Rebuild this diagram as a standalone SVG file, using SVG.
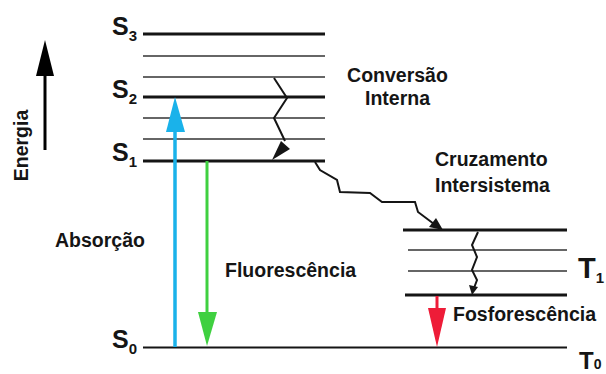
<svg xmlns="http://www.w3.org/2000/svg" width="606" height="374" viewBox="0 0 606 374">
<style>
  .lbl{font-family:"Liberation Sans",Arial,sans-serif;font-weight:bold;fill:#151515;font-size:19.5px}
  .st{font-family:"Liberation Sans",Arial,sans-serif;font-weight:bold;fill:#151515}
  .thick{stroke:#151515;stroke-width:2.8;fill:none}
  .thin{stroke:#333;stroke-width:1.6;fill:none}
  .zig{stroke:#151515;stroke-width:2;fill:none;stroke-linejoin:miter}
</style>
<rect width="606" height="374" fill="#ffffff"/>
<g id="energy-axis">
  <line x1="45" y1="150" x2="45" y2="72" stroke="#000" stroke-width="3"/>
  <polygon points="45,40 36,76 54,76" fill="#000"/>
  <text class="lbl" transform="translate(28,145.5) rotate(-90)" text-anchor="middle" font-size="17">Energia</text>
</g>
<g id="S3">
  <line class="thick" x1="143" y1="34" x2="325" y2="34"/>
  <text class="st" x="112" y="35" font-size="25">S<tspan font-size="15" dy="6">3</tspan></text>
</g>
<g id="S-manifold">
  <line class="thin" x1="143" y1="56" x2="325" y2="56"/>
  <line class="thin" x1="143" y1="77" x2="325" y2="77"/>
  <line class="thin" x1="143" y1="118" x2="325" y2="118"/>
  <line class="thin" x1="143" y1="139" x2="325" y2="139"/>
</g>
<g id="S2">
  <line class="thick" x1="143" y1="97" x2="325" y2="97"/>
  <text class="st" x="112" y="98" font-size="25">S<tspan font-size="15" dy="6">2</tspan></text>
</g>
<g id="S1">
  <line class="thick" x1="143" y1="161" x2="325" y2="161"/>
  <text class="st" x="112" y="161" font-size="25">S<tspan font-size="15" dy="6">1</tspan></text>
</g>
<g id="S0-T0">
  <line stroke="#151515" stroke-width="2.2" x1="143" y1="347.5" x2="567" y2="347.5"/>
  <text class="st" x="112" y="348" font-size="25">S<tspan font-size="15" dy="6">0</tspan></text>
  <text class="st" x="579" y="369" font-size="24">T<tspan font-size="14">0</tspan></text>
</g>
<g id="T1">
  <line class="thick" x1="403" y1="230" x2="567" y2="230"/>
  <line class="thin" x1="408" y1="250" x2="567" y2="250"/>
  <line class="thin" x1="408" y1="271" x2="567" y2="271"/>
  <line class="thick" x1="405" y1="295" x2="567" y2="295"/>
  <text class="st" x="578" y="278" font-size="29">T<tspan font-size="15" dy="5">1</tspan></text>
</g>
<g id="labels">
  <text class="lbl" x="397.5" y="82" text-anchor="middle">Conversão</text>
  <text class="lbl" x="397.5" y="105" text-anchor="middle">Interna</text>
  <text class="lbl" x="435" y="166">Cruzamento</text>
  <text class="lbl" x="435" y="191.5">Intersistema</text>
  <text class="lbl" x="55" y="247">Absorção</text>
  <text class="lbl" x="225" y="276.5">Fluorescência</text>
  <text class="lbl" x="453" y="321">Fosforescência</text>
</g>
<g id="connectors">
  <g id="absorcao">
    <line x1="175" y1="347" x2="175" y2="128" stroke="#1ab2ea" stroke-width="3.5"/>
    <polygon points="175,97 166,132 185,132" fill="#1ab2ea"/>
  </g>
  <g id="fluorescencia">
    <line x1="207" y1="161" x2="207" y2="315" stroke="#3fd040" stroke-width="3"/>
    <polygon points="207,346 198,312 217,312" fill="#3fd040"/>
  </g>
  <g id="fosforescencia">
    <line x1="437" y1="296" x2="437" y2="311" stroke="#ee1c38" stroke-width="3"/>
    <polygon points="437,347 428,308 446,308" fill="#ee1c38"/>
  </g>
  <g id="conversao-interna">
    <polyline class="zig" points="274,78 287,98 274,118 285,141"/>
    <polygon points="281,141 290,149 272,160" fill="#151515"/>
  </g>
  <g id="cruzamento-intersistema">
    <polyline class="zig" points="315,162 320,170 337,180 340,192 370,193 382,202 415,202 418,212 434,224"/>
    <polygon points="429,227 436,218 443,230" fill="#151515"/>
  </g>
  <g id="relaxamento-T1">
    <polyline class="zig" stroke-width="1.8" points="478,232 472,245 477,257 472,270 477,280 474,288"/>
    <polygon points="469,285 478,287 472,295" fill="#151515"/>
  </g>
</g>
</svg>
